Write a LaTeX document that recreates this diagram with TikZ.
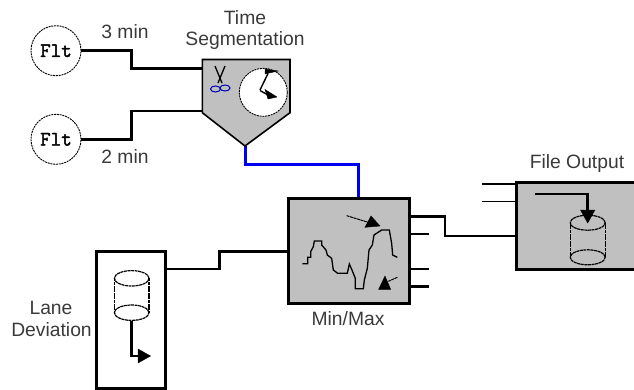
\documentclass[tikz,border=0pt]{standalone}
\usepackage{fontspec}
\setmainfont{Liberation Sans}
\newfontfamily\fltfont[FakeBold=2]{Latin Modern Mono}
\usetikzlibrary{calc}
\definecolor{boxgray}{HTML}{C0C0C0}
\definecolor{labelgray}{HTML}{3A3A3A}
\definecolor{wireblue}{HTML}{0000F0}
\tikzset{
  wire/.style={draw=black,line width=2.8pt},
  bluewire/.style={draw=wireblue,line width=3pt},
  thinwire/.style={draw=black,line width=1.2pt},
  block/.style={draw=black,line width=3pt,fill=boxgray,inner sep=0pt,outer sep=0pt},
  lbl/.style={font=\fontsize{19.3}{20}\selectfont,text=labelgray,inner sep=0pt,anchor=center},
  fltnode/.style={circle,draw=black,line width=0.9pt,dash pattern=on 2pt off 0.8pt,fill=white,minimum size=50pt,inner sep=0pt,font=\fontsize{20.5}{20}\fltfont},
  cyl/.style={draw=black,line width=1.2pt,dash pattern=on 3pt off 0.6pt},
  head/.style={fill=black,draw=black,line width=0.4pt},
  hand/.style={draw=black,line width=1.4pt},
}
\begin{document}
\begin{tikzpicture}[x=1pt,y=-1pt]
\useasboundingbox (0,0) rectangle (634,389);
% anchors
\coordinate (a1) at (202,68.3);
\coordinate (a2) at (202,111);
\coordinate (tip) at (245,146);
\coordinate (mmtop) at (358,199);
\coordinate (s1) at (429,216.7);
\coordinate (s2) at (429,234);
\coordinate (s3) at (429,269);
\coordinate (s4) at (429,286.7);
\coordinate (i1) at (482,184);
\coordinate (i2) at (482,201.7);
% wires below the blocks
\node[fltnode] (f1) at (56,50.7) {Flt};
\node[fltnode] (f2) at (56,139.3) {Flt};
\draw[wire] (f1.east) -- (131.7,50.7) -- (131.7,68.3) -- (a1);
\draw[wire] (f2.east) -- (131.7,139.3) -- (131.7,111) -- (a2);
\draw[bluewire] (tip) -- (245,164) -- (358,164) -- (mmtop);
% funnel
\path[fill=boxgray,draw=black,line width=1.6pt,line join=miter] (202.3,59.5) -- (290,59.5) -- (290,112.7) -- (245,146) -- (202.3,112.7) -- cycle;
\node[circle,draw=black,line width=0.9pt,dash pattern=on 2pt off 0.8pt,fill=white,minimum size=48pt,inner sep=0pt] (clock) at (263.3,92.3) {};
\draw[hand] (260,90) -- (268,73.5);
\path[head] (265,69) -- (278,71) -- (265,74) -- cycle;
\draw[hand] (260,90.5) -- (268,95);
\path[head] (265,89.5) -- (277,97) -- (268,99) -- cycle;
% scissors
\draw[black,line width=1.3pt] (215,66) -- (222,83) (225,66) -- (218,83);
\draw[blue!70!black,line width=1pt] (215.5,89) ellipse (5pt and 3pt);
\draw[blue!70!black,line width=1pt] (225,88) ellipse (5pt and 3pt);
% min/max
\node[block,minimum width=121pt,minimum height=104.5pt] (mm) at (348.8,251.2) {};
\draw[wire] (mm.east|-s1) -- (445,216.7) -- (445,236) -- (516.7,236);
\draw[wire] (mm.east|-s2) -- (s2);
\draw[wire] (mm.east|-s3) -- (s3);
\draw[wire] (mm.east|-s4) -- (s4);
\begin{scope}[x=0.3333pt,y=-0.3333pt,shift={(270pt,-150pt)}]
\draw[black,line width=1.3pt] (97,341) -- (113,341) -- (113,322) -- (122,322) -- (122,305) -- (130,290) -- (133,273) -- (155,273) -- (155,285) -- (168,300) -- (172,315) -- (185,325) -- (190,360) -- (203,370) -- (232,370) -- (238,342) -- (246,360) -- (256,385) -- (256,416) -- (280,416) -- (283,390) -- (292,355) -- (297,300) -- (307,285) -- (312,255) -- (335,240) -- (358,240) -- (365,280) -- (368,315) -- (382,322);
\draw[black,line width=1pt,dash pattern=on 3pt off 0.6pt] (230,197) -- (295,217);
\path[head] (303,198) -- (330,228) -- (285,232) -- cycle;
\draw[black,line width=1pt,dash pattern=on 3pt off 0.6pt] (382,382) -- (355,394);
\path[head] (345,378) -- (362,418) -- (326,418) -- cycle;
\end{scope}
% file output
\path[fill=boxgray,draw=black,line width=3pt] (640,182.7) -- (516.7,182.7) -- (516.7,269.3) -- (640,269.3);
\draw[thinwire] (i1) -- (516.7,184);
\draw[thinwire] (i2) -- (516.7,201.7);
\draw[cyl] (570.2,222.7) -- (570.2,257.3) (605.2,222.7) -- (605.2,257.3);
\draw[cyl] (587.7,222.7) ellipse (17.5pt and 7.5pt);
\draw[cyl] (587.7,257.3) ellipse (17.5pt and 7.5pt);
\draw[wire] (535,194) -- (587.7,194) -- (587.7,212);
\path[head] (580.5,210) -- (594.9,210) -- (587.7,223) -- cycle;
% lane deviation
\path[fill=white,draw=black,line width=3pt] (96.7,388) -- (96.7,251.7) -- (165.3,251.7) -- (165.3,388) -- cycle;
\coordinate (lout) at (165.3,269);
\draw[wire] (lout) -- (219.3,269) -- (219.3,251.7) -- (mm.west|-0,251.7);
\draw[cyl] (114.4,278.3) -- (114.4,312.7) (149,278.3) -- (149,312.7);
\draw[cyl] (131.7,278.3) ellipse (17.3pt and 7.7pt);
\draw[cyl] (131.7,312.7) ellipse (17.3pt and 7.7pt);
\draw[wire] (131.7,320.5) -- (131.7,356) -- (140,356);
\path[head] (138,349) -- (150.5,356) -- (138,363) -- cycle;
% labels
\node[lbl] (t1) at (245,18) {Time};
\node[lbl] (t2) at (245,41) {Segmentation};
\node[lbl] (t3) at (125,32) {3 min};
\node[lbl] (t4) at (125,157) {2 min};
\node[lbl] (t5) at (577,164) {File Output};
\node[lbl] (t6) at (348,319) {Min/Max};
\node[lbl] (t7) at (51,308) {Lane};
\node[lbl] (t8) at (51.5,330) {Deviation};
\end{tikzpicture}
\end{document}
